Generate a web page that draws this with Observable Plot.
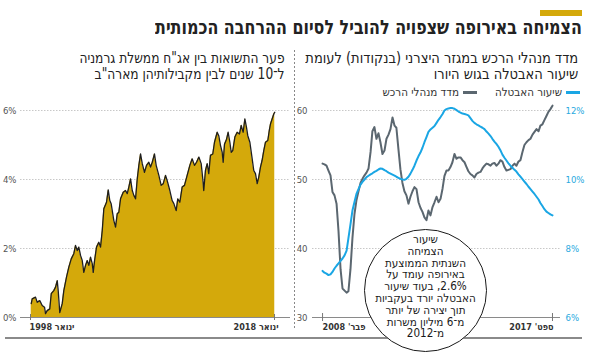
<!DOCTYPE html>
<html><head><meta charset="utf-8">
<script src="https://cdn.jsdelivr.net/npm/d3@7"></script>
<script src="https://cdn.jsdelivr.net/npm/@observablehq/plot@0.6"></script>
<style>
body{margin:0;background:#fff;}
#wrap{position:relative;width:589px;height:357px;overflow:hidden;background:#fff;font-family:"DejaVu Sans Condensed","Liberation Sans",sans-serif;color:#222;}
.abs{position:absolute;}
.rtl{direction:rtl;text-align:right;white-space:nowrap;transform-origin:100% 50%;}
.legend{display:flex;align-items:center;font-size:11.5px;color:#333;}
.sw{display:inline-block;width:14px;height:3px;margin-left:4px;}
#circle{position:absolute;left:364px;top:229px;width:121px;height:121px;border:1.4px solid #1a1a1a;border-radius:50%;background:#fff;}
#circleText{position:absolute;left:0;right:0;top:4px;text-align:center;direction:rtl;font-size:11.6px;line-height:11.8px;color:#1a1a1a;}
</style></head><body>
<div id="wrap">
  <div class="abs" style="left:540px;top:10px;width:42px;height:6px;background:#d4a90b"></div>
  <div class="abs rtl fit" data-w="427" style="right:7px;top:15px;font-size:20px;font-weight:bold;line-height:24px">הצמיחה באירופה שצפויה להוביל לסיום ההרחבה הכמותית</div>
  <div class="abs rtl fit" data-w="273" style="right:11px;top:50px;font-size:15px;line-height:16px">מדד מנהלי הרכש במגזר היצרני (בנקודות) לעומת<br>שיעור האבטלה בגוש היורו</div>
  <div class="abs rtl fit" data-w="205" style="right:304px;top:50px;font-size:15px;line-height:16px">פער התשואות בין אג"ח ממשלת גרמניה<br>ל־10 שנים לבין מקבילותיהן מארה"ב</div>
  <div class="abs rtl legend" style="right:9px;top:85px">
    <span class="sw" style="background:#1aa6e4"></span><span>שיעור האבטלה</span>
    <span class="sw" style="background:#5b6770;margin-right:18px"></span><span>מדד מנהלי הרכש</span>
  </div>
  <div id="left" class="abs" style="left:0;top:95px"></div>
  <div id="right" class="abs" style="left:295px;top:95px"></div>
  <div class="abs" style="left:294px;top:50px;width:1px;height:278px;background:repeating-linear-gradient(to bottom,#888 0 2px,transparent 2px 4px)"></div>
  <div class="abs" style="left:5px;top:337px;width:577px;height:2px;background:#8a8a8a"></div>
  <div id="circle"><div id="circleText">שיעור<br>הצמיחה<br>השנתית הממוצעת<br>באירופה עומד על<br>2.6%, בעוד שיעור<br>האבטלה יורד בעקביות<br>תוך יצירה של יותר<br>מ־6 מיליון משרות<br>מ־2012</div></div>
</div>
<script>
// ---- Left chart: yield spread (%) ----
const spreadYears = [1998.06,1998.14,1998.41,1998.55,1998.76,1998.96,1999.15,1999.23,1999.37,1999.58,1999.70,1999.91,2000.05,2000.19,2000.27,2000.40,2000.60,2000.73,2000.95,2001.14,2001.34,2001.55,2001.69,2001.83,2001.96,2002.10,2002.24,2002.37,2002.51,2002.65,2002.78,2002.92,2003.06,2003.14,2003.25,2003.41,2003.60,2003.74,2003.88,2004.01,2004.23,2004.37,2004.50,2004.61,2004.83,2004.97,2005.11,2005.24,2005.38,2005.60,2005.79,2005.93,2006.06,2006.20,2006.34,2006.47,2006.61,2006.75,2006.88,2007.02,2007.16,2007.34,2007.51,2007.70,2007.84,2007.98,2008.16,2008.30,2008.52,2008.71,2008.88,2009.07,2009.20,2009.42,2009.61,2009.75,2009.94,2010.07,2010.24,2010.43,2010.62,2010.84,2011.06,2011.25,2011.44,2011.61,2011.80,2011.99,2012.12,2012.20,2012.34,2012.48,2012.61,2012.75,2012.94,2013.08,2013.30,2013.43,2013.57,2013.71,2013.79,2013.90,2014.07,2014.20,2014.34,2014.45,2014.58,2014.75,2014.94,2015.13,2015.27,2015.43,2015.57,2015.70,2015.81,2015.98,2016.17,2016.30,2016.44,2016.58,2016.71,2016.85,2016.98,2017.12,2017.26,2017.45,2017.57,2017.67,2017.81,2017.94,2018.02];
const spreadValues = [0.40,0.54,0.59,0.44,0.49,0.35,0.30,0.11,0.20,0.25,0.69,0.78,0.88,1.07,0.78,0.14,0.40,0.78,1.17,1.46,1.70,1.85,2.09,1.94,2.04,1.80,1.65,1.31,1.51,1.65,1.51,1.75,1.56,1.31,1.65,2.04,2.18,2.04,2.52,3.15,3.34,3.70,3.39,3.30,2.81,2.62,3.01,3.05,3.44,3.63,3.68,3.59,3.78,4.02,3.68,3.54,3.44,4.02,4.41,4.74,4.46,4.21,4.41,4.50,4.36,4.50,4.74,4.41,4.12,3.83,3.88,4.12,3.97,3.68,3.39,3.30,3.10,3.44,3.34,3.78,3.83,4.12,4.41,4.60,4.41,4.50,4.65,4.46,4.02,3.68,4.26,4.46,4.17,4.70,4.74,5.08,5.37,5.27,4.99,4.79,4.50,5.02,5.17,5.37,5.08,4.79,4.84,5.23,5.37,5.32,5.57,5.37,5.76,5.52,5.27,5.08,4.60,4.26,4.17,3.88,4.07,4.36,4.55,4.84,5.08,5.13,5.42,5.61,5.76,5.90,5.95];
const leftTicks = [0, 2, 4, 6];
const leftTickLabels = ["0%", "2%", "4%", "6%"];
const leftXTicks = [1998, 2018];
const leftXLabels = ["ינואר 1998", "ינואר 2018"];

// ---- Right chart: PMI (points) and unemployment (%), monthly Feb 2008 - Sep 2017 ----
const pmiStart = [2008, 1]; // year, month index (Feb)
const pmiValues = [52.3,52.2,52.0,51.3,50.6,48.2,47.7,46.5,42.5,37.0,34.2,33.9,33.6,33.8,37.0,41.5,45.0,47.0,48.3,49.5,50.1,50.6,51.0,51.6,54.0,57.0,57.6,55.9,56.7,55.4,53.7,54.2,55.9,56.5,57.3,59.0,57.8,57.5,54.4,51.5,49.5,48.3,47.7,46.5,47.5,48.3,48.9,48.6,46.7,45.9,45.3,44.5,44.1,45.5,44.8,46.0,46.7,47.5,46.7,47.2,48.7,50.5,51.3,51.3,51.8,52.5,53.7,53.0,53.2,53.2,52.8,52.5,51.8,51.2,50.8,50.6,50.3,50.8,51.0,51.1,51.6,52.0,52.3,52.2,52.0,52.3,52.4,52.0,52.3,52.8,52.6,51.8,51.3,51.4,51.5,52.0,52.3,52.0,52.6,52.8,54.0,55.0,55.4,55.7,55.9,56.5,56.9,57.3,57.0,57.8,58.0,58.6,59.2,59.8,60.2,60.7];
const unemploymentValues = [7.35,7.30,7.27,7.23,7.25,7.32,7.42,7.50,7.57,7.64,7.71,7.80,7.94,8.30,8.70,9.10,9.35,9.58,9.72,9.85,9.93,10.00,10.07,10.11,10.15,10.18,10.22,10.25,10.29,10.32,10.31,10.27,10.24,10.20,10.17,10.14,10.11,10.08,10.05,10.02,10.00,9.99,10.02,10.08,10.17,10.28,10.40,10.55,10.68,10.78,10.92,11.08,11.23,11.38,11.45,11.50,11.55,11.64,11.73,11.81,11.90,12.00,12.04,12.06,12.07,12.07,12.05,12.01,11.97,11.94,11.91,11.90,11.88,11.86,11.78,11.70,11.64,11.60,11.57,11.53,11.50,11.46,11.39,11.33,11.26,11.18,11.10,11.03,10.95,10.85,10.72,10.63,10.55,10.47,10.40,10.34,10.28,10.23,10.15,10.08,10.01,9.94,9.87,9.79,9.72,9.65,9.58,9.50,9.42,9.32,9.23,9.14,9.07,9.03,8.99,8.96];
const pmiTicks = [30, 40, 50, 60];
const unempTickLabels = ["6%", "8%", "10%", "12%"];
const rightXLabels = ["פבר' 2008", "ספט' 2017"];

const GOLD = "#d4a90b", BLUE = "#1aa6e4", SLATE = "#5b6770";
const FONT = '"DejaVu Sans Condensed","Liberation Sans",sans-serif';
const rtl = s => "\u202B" + s + "\u202C";

// fit the Hebrew text blocks to the reference widths
document.querySelectorAll(".fit").forEach(el => {
  const w = el.getBoundingClientRect().width;
  el.style.transform = `scaleX(${(+el.dataset.w / w).toFixed(3)})`;
});

// left
const spread = spreadYears.map((t, i) => ({t, v: spreadValues[i]}));
const left = Plot.plot({
  width: 295, height: 245,
  marginLeft: 20, marginRight: 5, marginTop: 15, marginBottom: 23,
  style: {fontFamily: FONT, fontSize: "9.5px", background: "transparent", overflow: "visible"},
  x: {domain: [1997.18, 2019.31]},
  y: {domain: [0, 6]},
  marks: [
    Plot.ruleY([2, 4, 6], {stroke: "#c8c8c8", strokeDasharray: "1.5,1.5"}),
    Plot.areaY(spread, {x: "t", y: "v", fill: GOLD}),
    Plot.lineY(spread, {x: "t", y: "v", stroke: "#1e1e1e", strokeWidth: 1.3}),
    Plot.ruleY([0], {stroke: "#8a8a8a"}),
    Plot.axisY(leftTicks, {tickSize: 0, tickPadding: 4, tickFormat: (d, i) => leftTickLabels[i], fill: "#555", label: null}),
    Plot.axisX(leftXTicks, {tickSize: 6, dy: -3, fill: "none", stroke: "#777", label: null}),
    Plot.axisX([leftXTicks[0]], {tickSize: 0, tickPadding: 6, textAnchor: "start", dx: -1, fontSize: 9, tickFormat: () => rtl(leftXLabels[0]), fill: "#333", fontWeight: 600, label: null}),
    Plot.axisX([leftXTicks[1]], {tickSize: 0, tickPadding: 6, textAnchor: "end", dx: 4, fontSize: 9, tickFormat: () => rtl(leftXLabels[1]), fill: "#333", fontWeight: 600, label: null})
  ]
});
document.getElementById("left").appendChild(left);

// right
const dates = pmiValues.map((_, i) => d3.utcMonth.offset(new Date(Date.UTC(pmiStart[0], pmiStart[1], 1)), i));
const pmi = pmiValues.map((v, i) => ({d: dates[i], v}));
const unemp = unemploymentValues.map((u, i) => ({d: dates[i], v: 30 + (u - 6) * 5}));
const xTickDates = [dates[0], dates[dates.length - 1]];
const right = Plot.plot({
  width: 294, height: 245,
  marginLeft: 17, marginRight: 29, marginTop: 15, marginBottom: 23,
  style: {fontFamily: FONT, fontSize: "9.5px", background: "transparent", overflow: "visible"},
  x: {type: "utc", domain: [new Date(Date.UTC(2007, 8, 1)), new Date(Date.UTC(2018, 0, 1))]},
  y: {domain: [30, 60]},
  marks: [
    Plot.ruleY([40, 50, 60], {stroke: "#c8c8c8", strokeDasharray: "1.5,1.5"}),
    Plot.ruleY([30], {stroke: "#8a8a8a"}),
    Plot.lineY(pmi, {x: "d", y: "v", stroke: SLATE, strokeWidth: 2}),
    Plot.lineY(unemp, {x: "d", y: "v", stroke: BLUE, strokeWidth: 2}),
    Plot.axisY(pmiTicks, {anchor: "left", tickSize: 0, tickPadding: 5, fill: "#555", label: null}),
    Plot.axisY(pmiTicks, {anchor: "right", tickSize: 0, tickPadding: 5, tickFormat: (d, i) => unempTickLabels[i], fill: "#29a9e0", label: null}),
    Plot.axisX(xTickDates, {tickSize: 8, dy: -4, fill: "none", stroke: "#777", label: null}),
    Plot.axisX([xTickDates[0]], {tickSize: 0, tickPadding: 6, textAnchor: "start", fontSize: 9, tickFormat: () => rtl(rightXLabels[0]), fill: "#333", fontWeight: 600, label: null}),
    Plot.axisX([xTickDates[1]], {tickSize: 0, tickPadding: 6, textAnchor: "end", dx: 1, fontSize: 9, tickFormat: () => rtl(rightXLabels[1]), fill: "#333", fontWeight: 600, label: null})
  ]
});
document.getElementById("right").appendChild(right);
</script>
</body></html>
